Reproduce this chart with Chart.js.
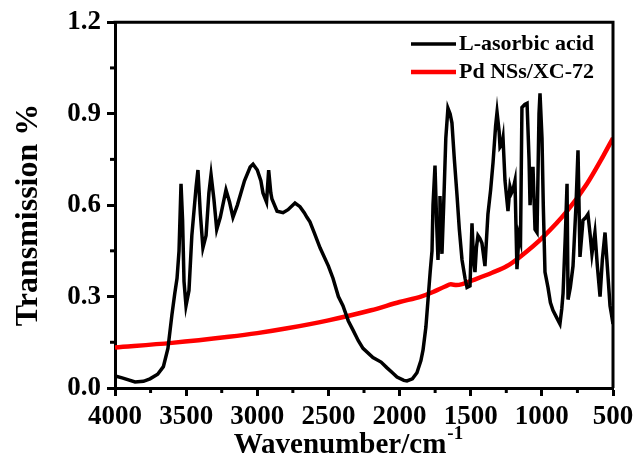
<!DOCTYPE html>
<html lang="en">

<head>
    <meta charset="UTF-8">
    <title>FTIR</title>
    <script src="https://cdn.jsdelivr.net/npm/chart.js@4.4.0/dist/chart.umd.min.js"></script>
    <style>
        body { margin: 0; background: #fff; }
    </style>
</head>

<body>
    <canvas id="myChart" width="640" height="460"></canvas>

    <script>
        // L-asorbic acid spectrum (wavenumber / transmission)
        const wnBlack = [4000, 3950, 3859, 3800, 3754, 3700, 3660, 3628, 3600, 3580, 3564, 3550, 3536, 3525, 3515, 3501, 3480, 3460, 3430, 3417,
            3400, 3382, 3360, 3340, 3325, 3305, 3285, 3260, 3220, 3195, 3171, 3140, 3090, 3050, 3030, 3000, 2975, 2960, 2935, 2920,
            2905, 2897, 2861, 2819, 2784, 2735, 2700, 2670, 2651, 2630, 2600, 2559, 2500, 2468, 2430, 2398, 2360, 2327, 2290, 2257,
            2187, 2130, 2088, 2050, 2018, 1970, 1948, 1910, 1878, 1850, 1835, 1815, 1800, 1785, 1772, 1765, 1751, 1740, 1730, 1722,
            1716, 1708, 1702, 1690, 1675, 1660, 1645, 1632, 1615, 1596, 1580, 1561, 1540, 1526, 1505, 1491, 1480, 1470, 1460, 1449,
            1435, 1421, 1400, 1390, 1379, 1360, 1343, 1325, 1315, 1300, 1294, 1280, 1273, 1259, 1238, 1224, 1213, 1203, 1189, 1175,
            1161, 1150, 1140, 1120, 1104, 1090, 1083, 1070, 1062, 1048, 1034, 1020, 1013, 999, 990, 978, 957, 940, 922, 895,
            873, 860, 851, 835, 823, 816, 800, 781, 760, 746, 732, 711, 690, 676, 660, 648, 627, 610, 591, 575,
            556, 540, 521, 510, 500];
        const tBlack = [0.04, 0.033, 0.02, 0.022, 0.03, 0.045, 0.07, 0.13, 0.24, 0.31, 0.36, 0.45, 0.67, 0.55, 0.35, 0.27, 0.32, 0.50, 0.66, 0.715,
            0.57, 0.46, 0.50, 0.64, 0.70, 0.62, 0.52, 0.56, 0.65, 0.61, 0.56, 0.60, 0.68, 0.725, 0.734, 0.715, 0.68, 0.64, 0.61, 0.715,
            0.64, 0.62, 0.58, 0.575, 0.585, 0.607, 0.595, 0.575, 0.56, 0.545, 0.51, 0.46, 0.40, 0.36, 0.30, 0.27, 0.22, 0.19, 0.155, 0.13,
            0.10, 0.085, 0.066, 0.05, 0.036, 0.025, 0.023, 0.03, 0.05, 0.09, 0.125, 0.20, 0.29, 0.38, 0.45, 0.60, 0.73, 0.55, 0.42, 0.55,
            0.63, 0.50, 0.44, 0.60, 0.82, 0.918, 0.90, 0.87, 0.75, 0.63, 0.52, 0.42, 0.36, 0.33, 0.335, 0.54, 0.42, 0.38, 0.46, 0.50,
            0.49, 0.475, 0.40, 0.48, 0.57, 0.65, 0.74, 0.86, 0.905, 0.84, 0.79, 0.80, 0.82, 0.68, 0.58, 0.66, 0.64, 0.65, 0.68, 0.39,
            0.50, 0.48, 0.92, 0.93, 0.934, 0.75, 0.60, 0.72, 0.72, 0.52, 0.51, 0.90, 0.967, 0.82, 0.60, 0.38, 0.33, 0.28, 0.255, 0.23,
            0.21, 0.26, 0.31, 0.50, 0.67, 0.29, 0.33, 0.40, 0.60, 0.78, 0.43, 0.55, 0.56, 0.57, 0.50, 0.44, 0.51, 0.40, 0.30, 0.42,
            0.51, 0.40, 0.27, 0.24, 0.21];

        // Pd NSs/XC-72 spectrum
        const wnRed = [4000, 3600, 3200, 3000, 2800, 2500, 2200, 2000, 1850, 1765, 1680, 1640, 1600, 1560, 1484, 1350, 1245, 1154, 992, 823, 683, 570, 500];
        const tRed = [0.133, 0.148, 0.168, 0.18, 0.195, 0.222, 0.255, 0.282, 0.30, 0.315, 0.333, 0.34, 0.338, 0.341, 0.354, 0.378, 0.40, 0.43, 0.495, 0.58, 0.67, 0.76, 0.82];

        const seriesNames = ['L-asorbic acid', 'Pd NSs/XC-72'];
        const seriesColors = ['#000000', '#ff0000'];

        const xMajor = v => v % 500 === 0;
        const yMajor = v => Math.round(v / 0.15) % 2 === 0;

        // minor ticks, box border, axis titles and legend
        const extras = {
            id: 'extras',
            afterDraw(chart) {
                const c = chart.ctx;
                const a = chart.chartArea;
                const sx = chart.scales.x, sy = chart.scales.y;
                c.save();
                c.strokeStyle = '#000';
                c.lineWidth = 3;
                c.beginPath();
                c.moveTo(a.left - 1.5, a.top);
                c.lineTo(a.right, a.top);
                c.lineTo(a.right, a.bottom);
                c.stroke();

                sx.ticks.forEach(t => {
                    if (xMajor(t.value)) return;
                    const px = sx.getPixelForValue(t.value);
                    c.beginPath();
                    c.moveTo(px, a.bottom);
                    c.lineTo(px, a.bottom + 5);
                    c.stroke();
                });
                sy.ticks.forEach(t => {
                    if (yMajor(t.value)) return;
                    const py = sy.getPixelForValue(t.value);
                    c.beginPath();
                    c.moveTo(a.left, py);
                    c.lineTo(a.left - 5, py);
                    c.stroke();
                });

                c.fillStyle = '#000';
                c.font = 'bold 29px "Liberation Serif"';
                c.textBaseline = 'alphabetic';
                const main = 'Wavenumber/cm';
                const w = c.measureText(main).width;
                const x0 = 340 - w / 2;
                c.textAlign = 'left';
                c.fillText(main, x0, 453);
                c.font = 'bold 19px "Liberation Serif"';
                c.fillText('-1', x0 + w + 1, 439);

                c.save();
                c.translate(37, 215);
                c.rotate(-Math.PI / 2);
                c.textAlign = 'center';
                c.font = 'bold 32px "Liberation Serif"';
                c.fillText('Transmission %', 0, 0);
                c.restore();

                c.font = 'bold 22px "Liberation Serif"';
                c.textAlign = 'left';
                c.textBaseline = 'middle';
                seriesNames.forEach((name, i) => {
                    const y = 44 + i * 28;
                    c.strokeStyle = seriesColors[i];
                    c.lineWidth = i === 0 ? 3.5 : 4.5;
                    c.beginPath();
                    c.moveTo(411, y);
                    c.lineTo(456, y);
                    c.stroke();
                    c.fillText(name, 459, y);
                });
                c.restore();
            }
        };

        const ctx = document.getElementById('myChart').getContext('2d');
        const myChart = new Chart(ctx, {
            type: 'line',
            data: {
                datasets: [{
                    label: seriesNames[0],
                    data: wnBlack.map((x, i) => ({ x: x, y: tBlack[i] })),
                    borderColor: seriesColors[0],
                    borderWidth: 3.5,
                    pointRadius: 0,
                    tension: 0
                }, {
                    label: seriesNames[1],
                    data: wnRed.map((x, i) => ({ x: x, y: tRed[i] })),
                    borderColor: seriesColors[1],
                    borderWidth: 4.5,
                    pointRadius: 0,
                    cubicInterpolationMode: 'monotone'
                }]
            },
            options: {
                responsive: false,
                animation: false,
                devicePixelRatio: 1,
                layout: { padding: { top: 22, right: 27, left: 0, bottom: 0 } },
                plugins: {
                    legend: { display: false },
                    tooltip: { enabled: false }
                },
                scales: {
                    x: {
                        type: 'linear',
                        reverse: true,
                        min: 500,
                        max: 4000,
                        afterFit: s => { s.height = 72; },
                        border: { display: true, color: '#000', width: 3 },
                        grid: {
                            drawOnChartArea: false,
                            tickLength: 8,
                            tickWidth: 3,
                            tickColor: c => (c.tick && xMajor(c.tick.value)) ? '#000' : 'rgba(0,0,0,0)'
                        },
                        ticks: {
                            stepSize: 250,
                            autoSkip: false,
                            maxRotation: 0,
                            padding: 5,
                            color: '#000',
                            font: { family: 'Liberation Serif', weight: 'bold', size: 27 },
                            callback: v => xMajor(v) ? String(v) : ''
                        }
                    },
                    y: {
                        min: 0,
                        max: 1.2,
                        afterFit: s => { s.width = 115; },
                        border: { display: true, color: '#000', width: 3 },
                        grid: {
                            drawOnChartArea: false,
                            tickLength: 8,
                            tickWidth: 3,
                            tickColor: c => (c.tick && yMajor(c.tick.value)) ? '#000' : 'rgba(0,0,0,0)'
                        },
                        ticks: {
                            stepSize: 0.15,
                            autoSkip: false,
                            padding: 6,
                            color: '#000',
                            font: { family: 'Liberation Serif', weight: 'bold', size: 27 },
                            callback: v => yMajor(v) ? v.toFixed(1) : ''
                        }
                    }
                }
            },
            plugins: [extras]
        });
    </script>
</body>

</html>
